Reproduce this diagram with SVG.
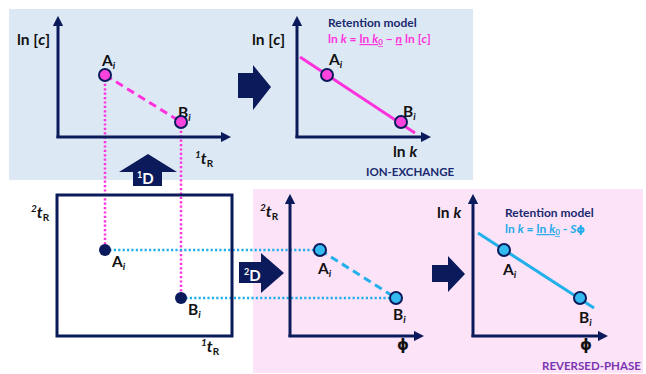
<svg xmlns="http://www.w3.org/2000/svg" width="646" height="374" viewBox="0 0 646 374">
<defs>
<marker id="ah" viewBox="0 0 10 10" refX="2" refY="5" markerWidth="3.4" markerHeight="3.6" orient="auto" markerUnits="strokeWidth">
<path d="M0,0 L10,5 L0,10 Z" fill="#0b1a5a"/>
</marker>
<style>
text{font-family:Lato,"Open Sans","Liberation Sans",sans-serif;font-weight:bold;fill:#111}
.ax{stroke:#0b1a5a;stroke-width:3;fill:none;marker-end:url(#ah)}
.lab{font-size:15.5px}
.pt{font-size:15.5px}
.sub{font-size:10px;font-style:italic}
.sm{font-size:10px}
.it{font-style:italic}
.phi{font-family:"DejaVu Sans","Noto Sans",sans-serif;font-size:15px}
.mdot{stroke:#ff33dd;stroke-width:2.5;stroke-dasharray:2.2 2.2;fill:none}
.cdot{stroke:#22b0ea;stroke-width:2.5;stroke-dasharray:2.2 2.2;fill:none}
.mpt{fill:#ff44dd;stroke:#0b1a5a;stroke-width:2}
.cpt{fill:#33bbf0;stroke:#0b1a5a;stroke-width:2}
.npt{fill:#0b1a5a}
.arr{fill:#0b1a5a}
.hd{font-size:12px;fill:#1a2a6e}
.tag{font-size:11.5px}
</style>
</defs>

<rect x="9" y="9" width="464" height="171" fill="#dde8f5"/>
<rect x="253" y="189" width="390" height="184" fill="#fce3f8"/>

<g id="connectors">
<line class="mdot" x1="105" y1="75" x2="105" y2="250"/>
<line class="mdot" x1="181" y1="122" x2="181" y2="298"/>
<line class="cdot" x1="105" y1="250" x2="320" y2="250"/>
<line class="cdot" x1="181" y1="298" x2="396" y2="298"/>
</g>

<g id="ion-exchange-data">
<line class="ax" x1="58" y1="138" x2="58" y2="24"/>
<line class="ax" x1="56.5" y1="137" x2="223" y2="137"/>
<text class="lab" x="17" y="45">ln [<tspan class="it">c</tspan>]</text>
<line x1="105" y1="75" x2="181" y2="122" stroke="#ff33dd" stroke-width="3" stroke-dasharray="8 5"/>
<text class="pt" x="102" y="66">A<tspan class="sub" dy="3">i</tspan></text>
<text class="pt" x="178" y="118">B<tspan class="sub" dy="3">i</tspan></text>
<circle class="mpt" cx="105" cy="75" r="6"/>
<circle class="mpt" cx="181" cy="122" r="6"/>
<text x="195" y="164"><tspan class="sub" dy="-6">1</tspan><tspan class="it" font-size="16" dy="6">t</tspan><tspan class="sm" dy="3">R</tspan></text>
</g>

<g id="arrow-1d">
<path class="arr" d="M148,154 L177,172 L162,172 L162,186 L133,186 L133,172 L119,172 Z"/>
<text x="137" y="184" style="fill:#fff"><tspan font-size="9" dy="-6">1</tspan><tspan font-size="15" dy="6">D</tspan></text>
</g>

<g id="arrow-top">
<path class="arr" d="M238,73 L253,73 L253,65 L271,87 L253,110 L253,98 L238,98 Z"/>
</g>

<g id="ion-exchange-model">
<line class="ax" x1="297" y1="138" x2="297" y2="24"/>
<line class="ax" x1="295.5" y1="137" x2="423" y2="137"/>
<text class="lab" x="252" y="45">ln [<tspan class="it">c</tspan>]</text>
<text class="hd" x="328" y="27">Retention model</text>
<text class="hd" x="328" y="43" style="fill:#ff33dd">ln <tspan class="it">k</tspan> = <tspan text-decoration="underline">ln <tspan class="it">k</tspan><tspan font-size="8" dy="2">0</tspan></tspan><tspan dy="-2"> − </tspan><tspan class="it" text-decoration="underline">n</tspan> ln [<tspan class="it">c</tspan>]</text>
<line x1="300" y1="57" x2="415" y2="133" stroke="#ff33dd" stroke-width="3"/>
<text class="pt" x="329" y="65">A<tspan class="sub" dy="3">i</tspan></text>
<text class="pt" x="403" y="117">B<tspan class="sub" dy="3">i</tspan></text>
<circle class="mpt" cx="327" cy="75" r="6"/>
<circle class="mpt" cx="401" cy="122" r="6"/>
<text class="lab" x="393" y="157">ln <tspan class="it">k</tspan></text>
<text class="tag" x="366" y="176" style="fill:#1a2a6e">ION-EXCHANGE</text>
</g>

<g id="two-d-plot">
<rect x="57" y="195" width="175" height="141" fill="none" stroke="#0b1a5a" stroke-width="3"/>
<text x="31" y="218"><tspan class="sub" dy="-6">2</tspan><tspan class="it" font-size="16" dy="6">t</tspan><tspan class="sm" dy="3">R</tspan></text>
<text x="201" y="352"><tspan class="sub" dy="-6">1</tspan><tspan class="it" font-size="16" dy="6">t</tspan><tspan class="sm" dy="3">R</tspan></text>
<circle class="npt" cx="105" cy="250" r="6"/>
<circle class="npt" cx="181" cy="298" r="6"/>
<text class="pt" x="112" y="267">A<tspan class="sub" dy="3">i</tspan></text>
<text class="pt" x="188" y="315">B<tspan class="sub" dy="3">i</tspan></text>
</g>

<g id="arrow-2d">
<path class="arr" d="M239,262 L261,262 L261,253 L284,273 L261,293 L261,283 L239,283 Z"/>
<text x="244" y="281" style="fill:#fff"><tspan font-size="9" dy="-6">2</tspan><tspan font-size="15" dy="6">D</tspan></text>
</g>

<g id="reversed-phase-data">
<line class="ax" x1="290" y1="337" x2="290" y2="202"/>
<line class="ax" x1="288.5" y1="336" x2="416" y2="336"/>
<text x="260" y="217"><tspan class="sub" dy="-6">2</tspan><tspan class="it" font-size="16" dy="6">t</tspan><tspan class="sm" dy="3">R</tspan></text>
<line x1="320" y1="250" x2="396" y2="298" stroke="#22b0ea" stroke-width="3" stroke-dasharray="8 5"/>
<circle class="cpt" cx="320" cy="250" r="6"/>
<circle class="cpt" cx="396" cy="298" r="6"/>
<text class="pt" x="318" y="274">A<tspan class="sub" dy="3">i</tspan></text>
<text class="pt" x="393" y="320">B<tspan class="sub" dy="3">i</tspan></text>
<text class="phi" x="397" y="350">ϕ</text>
</g>

<g id="arrow-bottom">
<path class="arr" d="M432,265 L448,265 L448,256 L465,274 L448,292 L448,282 L432,282 Z"/>
</g>

<g id="reversed-phase-model">
<line class="ax" x1="473" y1="337" x2="473" y2="202"/>
<line class="ax" x1="471.5" y1="336" x2="600" y2="336"/>
<text class="lab" x="437" y="218">ln <tspan class="it">k</tspan></text>
<text class="hd" x="505" y="217">Retention model</text>
<text class="hd" x="505" y="233" style="fill:#22aaea">ln <tspan class="it">k</tspan> = <tspan text-decoration="underline">ln <tspan class="it">k</tspan><tspan font-size="8" dy="2">0</tspan></tspan><tspan dy="-2"> - </tspan><tspan class="it">S</tspan><tspan font-family="DejaVu Sans,Noto Sans,sans-serif" font-size="11">ϕ</tspan></text>
<line x1="478" y1="233" x2="594" y2="308" stroke="#22b0ea" stroke-width="3"/>
<circle class="cpt" cx="504" cy="250" r="6"/>
<circle class="cpt" cx="580" cy="298" r="6"/>
<text class="pt" x="503" y="275">A<tspan class="sub" dy="3">i</tspan></text>
<text class="pt" x="579" y="323">B<tspan class="sub" dy="3">i</tspan></text>
<text class="phi" x="580" y="350">ϕ</text>
<text class="tag" x="542" y="370" style="fill:#7a35b0">REVERSED-PHASE</text>
</g>
</svg>
